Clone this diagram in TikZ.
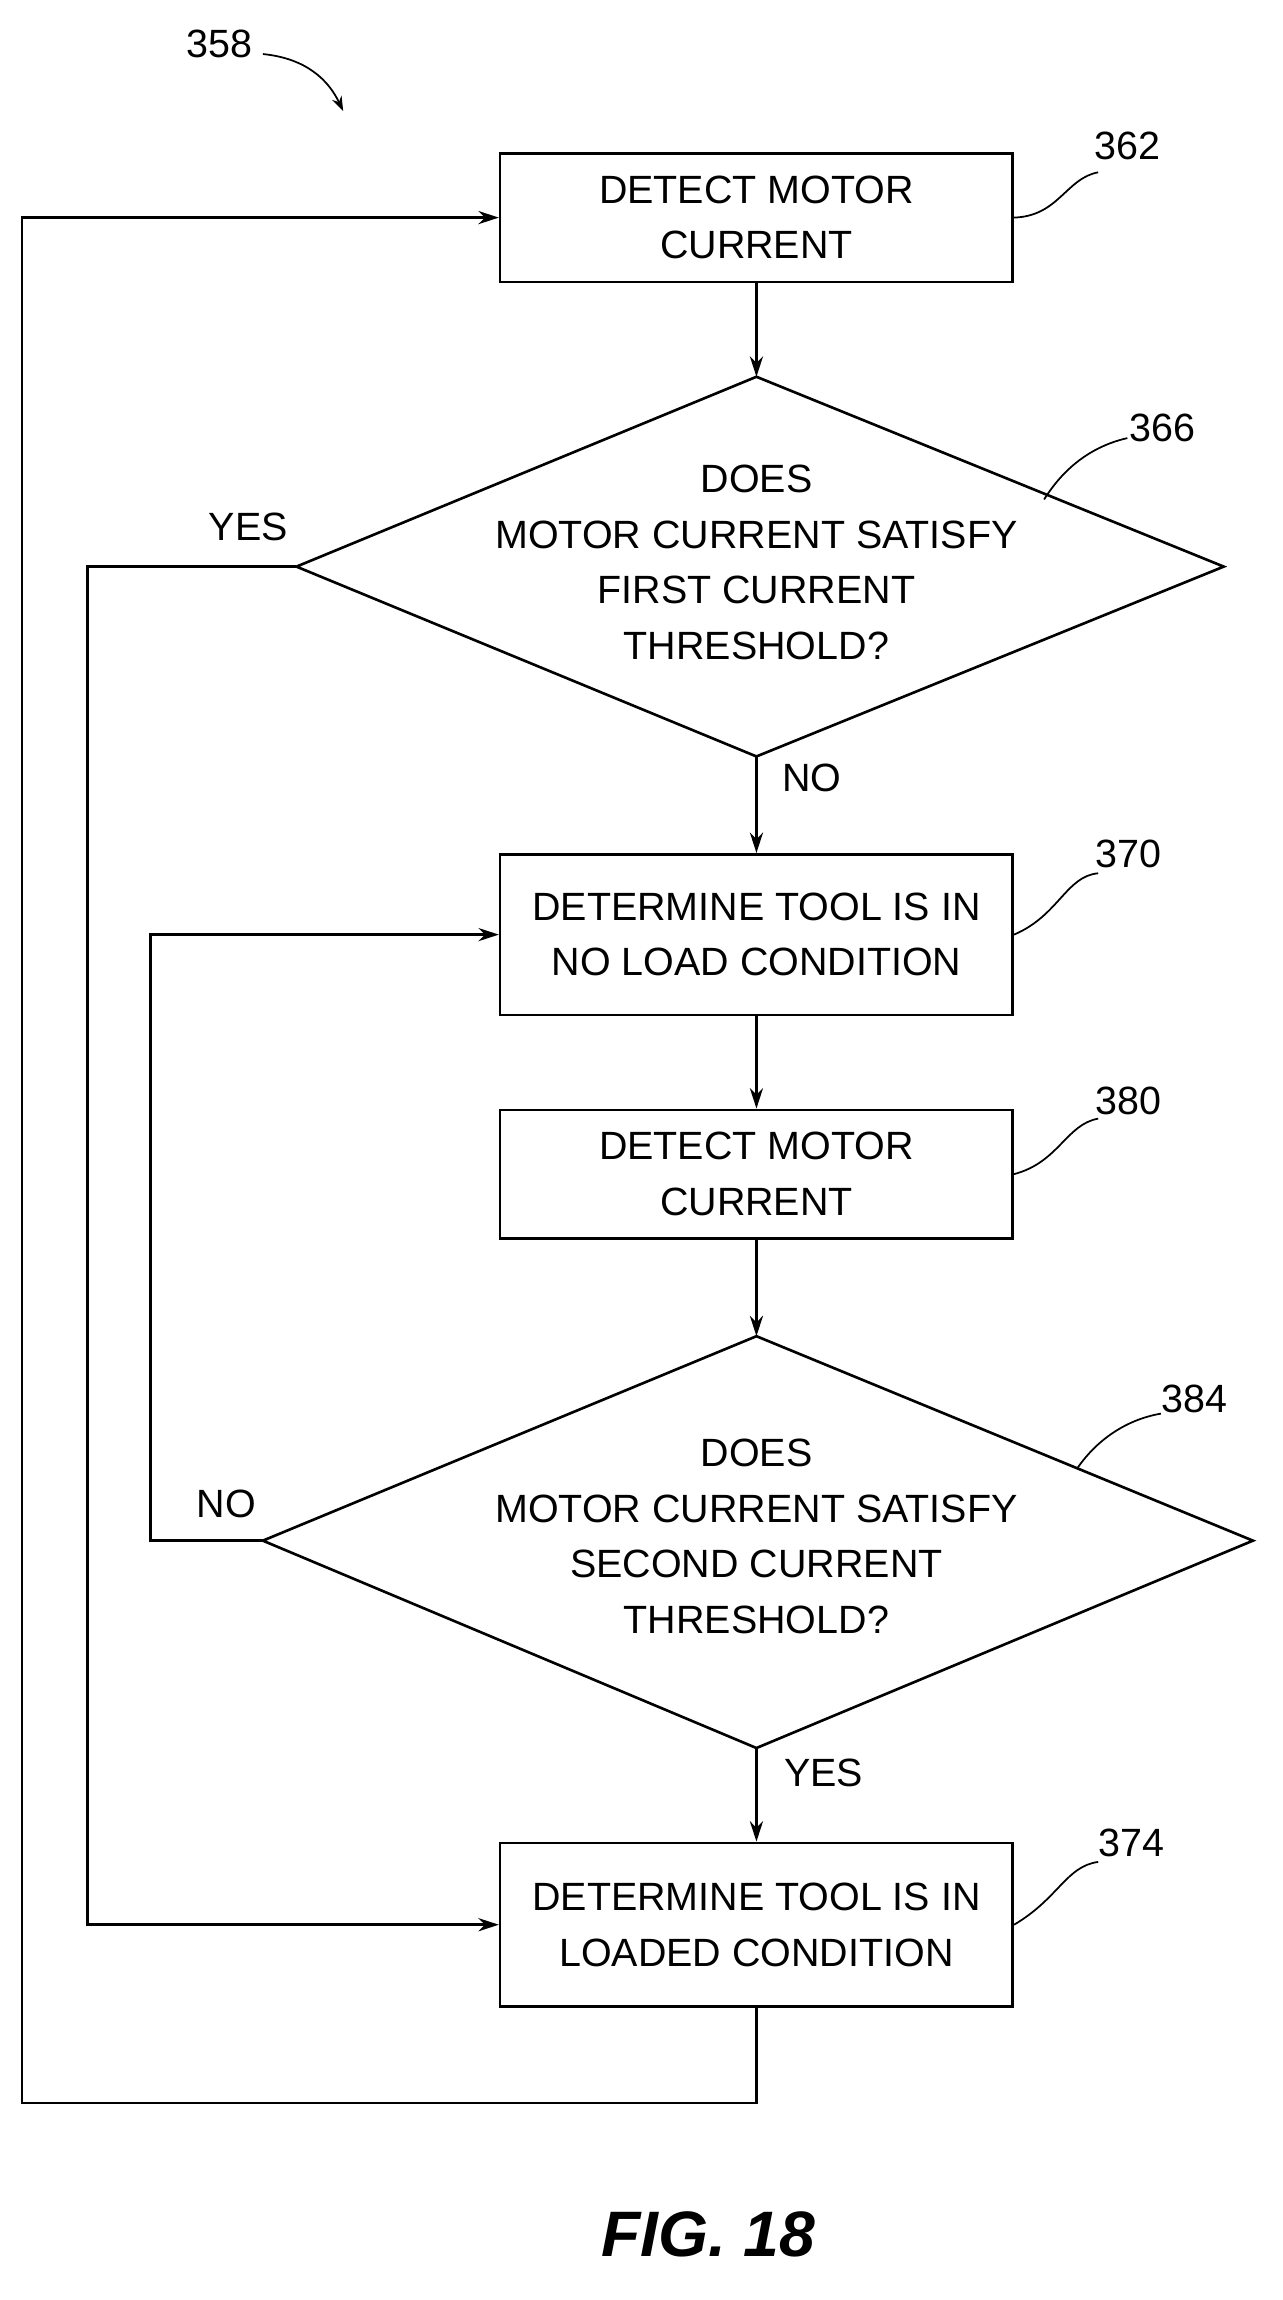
\documentclass[tikz,border=0pt]{standalone}
\usepackage{fontspec}
\setmainfont{Liberation Sans}
\usetikzlibrary{arrows.meta}
\begin{document}
\begin{tikzpicture}[x=1pt,y=-1pt,
  every node/.style={font=\fontsize{27}{38}\selectfont},
  box/.style={draw,line width=1.8pt,minimum width=351pt,align=center,inner sep=0pt},
  lbl/.style={font=\fontsize{27}{30}\selectfont},
  ln/.style={line width=1.8pt},
  arr/.style={ln,-{Stealth[length=14pt,width=9pt]}},
  lead/.style={line width=1.2pt}]
\useasboundingbox (0,0) rectangle (878,1575);
\node[box,minimum height=88pt] (b362) at (518,149) {DETECT MOTOR\\CURRENT};
\node[box,minimum height=110pt] (b370) at (518,640) {DETERMINE TOOL IS IN\\NO LOAD CONDITION};
\node[box,minimum height=88pt] (b380) at (518,804) {DETECT MOTOR\\CURRENT};
\node[box,minimum height=112pt] (b374) at (518,1318) {DETERMINE TOOL IS IN\\LOADED CONDITION};
% diamonds
\coordinate (d1t) at (518,258); \coordinate (d1b) at (518,518);
\coordinate (d1l) at (203,388); \coordinate (d1r) at (838,388);
\draw[ln] (d1t)--(d1r)--(d1b)--(d1l)--cycle;
\node[align=center] (t366) at (518,385) {DOES\\MOTOR CURRENT SATISFY\\FIRST CURRENT\\THRESHOLD?};
\coordinate (d2t) at (518,915); \coordinate (d2b) at (518,1197);
\coordinate (d2l) at (180,1055); \coordinate (d2r) at (858,1055);
\draw[ln] (d2t)--(d2r)--(d2b)--(d2l)--cycle;
\node[align=center] (t384) at (518,1052) {DOES\\MOTOR CURRENT SATISFY\\SECOND CURRENT\\THRESHOLD?};
% arrows
\draw[arr] (b362.south) -- (d1t);
\draw[arr] (d1b) -- (b370.north);
\draw[arr] (b370.south) -- (b380.north);
\draw[arr] (b380.south) -- (d2t);
\draw[arr] (d2b) -- (b374.north);
\draw[arr] (d1l) -- (60,388) -- (60,1318) -- (b374.west);
\draw[arr] (d2l) -- (103,1055) -- (103,640) -- (b370.west);
\draw[arr] (b374.south) -- (518,1440) -- (15,1440) -- (15,149) -- (b362.west);
\node (yes1) at (170,361) {YES};
\node (no1) at (556,533) {NO};
\node (no2) at (155,1030) {NO};
\node (yes2) at (564,1214) {YES};
% labels
\node[lbl] (n358) at (150,30) {358};
\draw[lead,-{Stealth[length=10pt,width=7pt]}] (180,37) .. controls (210,40) and (225,55) .. (235,76);
\node[lbl] (n362) at (772,100) {362};
\draw[lead] (b362.east) .. controls (725,148) and (730,122) .. (752,118);
\node[lbl] (n366) at (796,293) {366};
\draw[lead] (715,342) .. controls (730,318) and (750,305) .. (772,300);
\node[lbl] (n370) at (773,585) {370};
\draw[lead] (b370.east) .. controls (725,627) and (730,600) .. (752,598);
\node[lbl] (n380) at (773,754) {380};
\draw[lead] (b380.east) .. controls (725,796) and (730,770) .. (752,766);
\node[lbl] (n384) at (818,958) {384};
\draw[lead] (738,1005) .. controls (752,985) and (772,972) .. (795,968);
\node[lbl] (n374) at (775,1262) {374};
\draw[lead] (b374.east) .. controls (725,1300) and (730,1278) .. (752,1275);
\node[font=\fontsize{44}{48}\selectfont\bfseries\itshape] (fig) at (485,1530) {FIG. 18};
\end{tikzpicture}
\end{document}
